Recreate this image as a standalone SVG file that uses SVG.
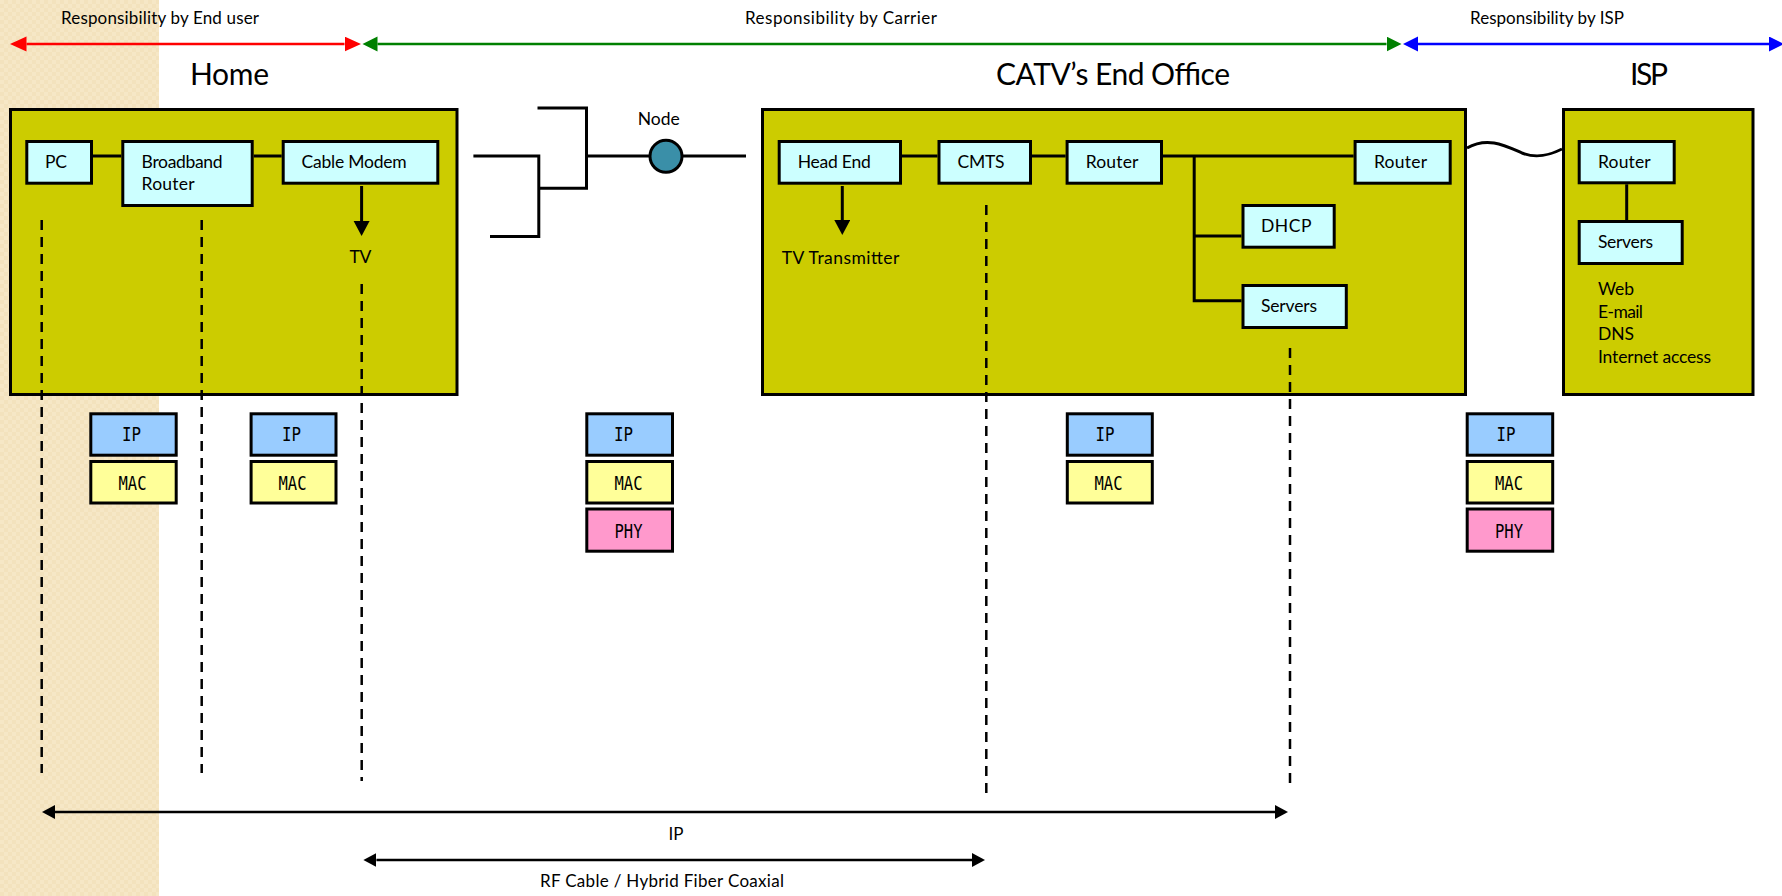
<svg xmlns="http://www.w3.org/2000/svg" width="1782" height="896" viewBox="0 0 1782 896">
  <style>
    .t { font-family: Lato, "Liberation Sans", sans-serif; fill: #000; }
    .lbl { font-size: 17px; }
    .ttl { font-size: 30px; }
    .nd { font-size: 17.5px; }
    .site { fill: #cccc00; stroke: #000; stroke-width: 3; }
    .dev { fill: #ccffff; stroke: #000; stroke-width: 3; }
    .link { fill: none; stroke: #000; stroke-width: 3; }
    .dash { fill: none; stroke: #000; stroke-width: 2.5; stroke-dasharray: 10 7; }
    .ip { fill: #99ccff; stroke: #000; stroke-width: 3; }
    .mac { fill: #ffff99; stroke: #000; stroke-width: 3; }
    .phy { fill: #ff99cc; stroke: #000; stroke-width: 3; }
    .ly { font-family: "DejaVu Sans Mono", "Liberation Mono", monospace; font-size: 19px; fill: #000; text-anchor: middle; }
  </style>
  <defs>
    <pattern id="weave" width="8" height="8" patternUnits="userSpaceOnUse">
      <rect width="8" height="8" fill="#f3e2bd"/>
      <rect width="4" height="4" fill="#f6e7c6"/>
      <rect x="4" y="4" width="4" height="4" fill="#f6e7c6"/>
    </pattern>
    <marker id="hRed" markerUnits="userSpaceOnUse" markerWidth="17" markerHeight="16" refX="0" refY="7.5" orient="auto-start-reverse">
      <path d="M0,0 L16.5,7.5 L0,15 z" fill="#ff0000"/>
    </marker>
    <marker id="hGreen" markerUnits="userSpaceOnUse" markerWidth="17" markerHeight="16" refX="0" refY="7.5" orient="auto-start-reverse">
      <path d="M0,0 L15,7.5 L0,15 z" fill="#008000"/>
    </marker>
    <marker id="hBlue" markerUnits="userSpaceOnUse" markerWidth="17" markerHeight="16" refX="0" refY="7.5" orient="auto-start-reverse">
      <path d="M0,0 L15,7.5 L0,15 z" fill="#0000ff"/>
    </marker>
    <marker id="hBlack" markerUnits="userSpaceOnUse" markerWidth="14" markerHeight="15" refX="0" refY="7" orient="auto-start-reverse">
      <path d="M0,0 L13,7 L0,14 z" fill="#000"/>
    </marker>
    <marker id="hDown" markerUnits="userSpaceOnUse" markerWidth="16" markerHeight="17" refX="0" refY="8" orient="auto">
      <path d="M0,0 L15,8 L0,16 z" fill="#000"/>
    </marker>
  </defs>

  <!-- end-user zone background -->
  <rect x="0" y="0" width="159" height="896" fill="url(#weave)"/>

  <!-- responsibility spans -->
  <g id="responsibility">
    <line x1="26.5" y1="44" x2="344.5" y2="44" stroke="#ff0000" stroke-width="2.5" marker-start="url(#hRed)" marker-end="url(#hRed)"/>
    <line x1="377.5" y1="44" x2="1386.5" y2="44" stroke="#008000" stroke-width="2.5" marker-start="url(#hGreen)" marker-end="url(#hGreen)"/>
    <line x1="1418" y1="44" x2="1769" y2="44" stroke="#0000ff" stroke-width="2.5" marker-start="url(#hBlue)" marker-end="url(#hBlue)"/>
    <text class="t lbl" x="61" y="24" textLength="198">Responsibility by End user</text>
    <text class="t lbl" x="745" y="24" textLength="192">Responsibility by Carrier</text>
    <text class="t lbl" x="1470" y="24" textLength="154">Responsibility by ISP</text>
  </g>

  <!-- site titles -->
  <text class="t ttl" x="190" y="85" textLength="79">Home</text>
  <text class="t ttl" x="996" y="85" textLength="234">CATV’s End Office</text>
  <text class="t ttl" x="1630" y="85" textLength="38">ISP</text>

  <!-- sites -->
  <g id="home">
    <rect class="site" x="10.5" y="109.5" width="446.5" height="285"/>
  </g>
  <g id="catv-office">
    <rect class="site" x="762.5" y="109.5" width="703" height="285"/>
  </g>
  <g id="isp">
    <rect class="site" x="1563.5" y="109.5" width="189.5" height="285"/>
  </g>

  <!-- connectors -->
  <g id="connectors">
    <line class="link" x1="93" y1="156" x2="121.3" y2="156"/>
    <line class="link" x1="253.7" y1="156" x2="281.7" y2="156"/>
    <line class="link" x1="361.6" y1="186" x2="361.6" y2="221" marker-end="url(#hDown)"/>
    <!-- coax tree to the node -->
    <polyline class="link" points="537.5,108 586.5,108 586.5,188.3 538.8,188.3"/>
    <polyline class="link" points="473.4,156 538.8,156 538.8,236.5 490,236.5"/>
    <line class="link" x1="586.5" y1="156" x2="746" y2="156"/>
    <!-- end office -->
    <line class="link" x1="842.3" y1="186" x2="842.3" y2="220" marker-end="url(#hDown)"/>
    <line class="link" x1="902" y1="156" x2="937.5" y2="156"/>
    <line class="link" x1="1032" y1="156" x2="1065.6" y2="156"/>
    <line class="link" x1="1163" y1="156" x2="1353.6" y2="156"/>
    <polyline class="link" points="1194.2,156 1194.2,300.7 1241.5,300.7"/>
    <line class="link" x1="1194.2" y1="236" x2="1241.5" y2="236"/>
    <!-- ISP uplink -->
    <path class="link" stroke-width="2.5" d="M1467,148 C1488,136 1506,146 1522,153 C1537,159 1550,155 1562,149"/>
    <line class="link" x1="1626.7" y1="184.3" x2="1626.7" y2="220"/>
    <!-- layer boundaries -->
    <line class="dash" x1="41.7" y1="220" x2="41.7" y2="773"/>
    <line class="dash" x1="201.7" y1="220" x2="201.7" y2="773"/>
    <line class="dash" x1="361.7" y1="284" x2="361.7" y2="781"/>
    <line class="dash" x1="986.3" y1="205" x2="986.3" y2="794"/>
    <line class="dash" x1="1290" y1="348" x2="1290" y2="788"/>
    <!-- spans -->
    <line x1="55" y1="812" x2="1275" y2="812" stroke="#000" stroke-width="2.5" marker-start="url(#hBlack)" marker-end="url(#hBlack)"/>
    <line x1="376.4" y1="860" x2="972" y2="860" stroke="#000" stroke-width="2.5" marker-start="url(#hBlack)" marker-end="url(#hBlack)"/>
    <text class="t lbl" x="676" y="840" text-anchor="middle">IP</text>
    <text class="t lbl" x="540" y="887" textLength="244">RF Cable / Hybrid Fiber Coaxial</text>
  </g>

  <!-- home devices -->
  <g id="pc">
    <rect class="dev" x="26.8" y="141.5" width="64.7" height="41.7"/>
    <text class="t nd" x="45" y="167.5" textLength="22">PC</text>
  </g>
  <g id="broadband-router">
    <rect class="dev" x="122.8" y="141.5" width="129.4" height="64"/>
    <text class="t nd" x="141.6" y="167.5" textLength="81">Broadband</text>
    <text class="t nd" x="141.6" y="190" textLength="53">Router</text>
  </g>
  <g id="cable-modem">
    <rect class="dev" x="283.2" y="141.5" width="154.6" height="41.7"/>
    <text class="t nd" x="301.6" y="167.5" textLength="105">Cable Modem</text>
  </g>
  <g id="tv">
    <text class="t nd" x="349.4" y="263" textLength="22">TV</text>
  </g>

  <!-- HFC node -->
  <g id="node">
    <circle cx="666" cy="156.3" r="16" fill="#3a8fa8" stroke="#000" stroke-width="3"/>
    <text class="t nd" x="637.7" y="125" textLength="42">Node</text>
  </g>

  <!-- end office devices -->
  <g id="head-end">
    <rect class="dev" x="779.2" y="141.5" width="121.3" height="41.7"/>
    <text class="t nd" x="797.7" y="167.5" textLength="73">Head End</text>
  </g>
  <g id="tv-transmitter">
    <text class="t nd" x="781.7" y="264" textLength="117.6">TV Transmitter</text>
  </g>
  <g id="cmts">
    <rect class="dev" x="939" y="141.5" width="91.5" height="41.7"/>
    <text class="t nd" x="957.6" y="167.5" textLength="47">CMTS</text>
  </g>
  <g id="office-router">
    <rect class="dev" x="1067.1" y="141.5" width="94.4" height="41.7"/>
    <text class="t nd" x="1085.7" y="167.5" textLength="52.7">Router</text>
  </g>
  <g id="edge-router">
    <rect class="dev" x="1355.1" y="141.5" width="95.1" height="41.7"/>
    <text class="t nd" x="1374" y="167.5" textLength="53">Router</text>
  </g>
  <g id="dhcp">
    <rect class="dev" x="1243" y="205.5" width="91.2" height="41.7"/>
    <text class="t nd" x="1261" y="231.7" textLength="50.5">DHCP</text>
  </g>
  <g id="office-servers">
    <rect class="dev" x="1243" y="285.5" width="103.3" height="42"/>
    <text class="t nd" x="1261" y="312.3" textLength="56">Servers</text>
  </g>

  <!-- ISP devices -->
  <g id="isp-router">
    <rect class="dev" x="1579.2" y="141.5" width="95" height="41.3"/>
    <text class="t nd" x="1598" y="167.5" textLength="52.7">Router</text>
  </g>
  <g id="isp-servers">
    <rect class="dev" x="1579.2" y="221.5" width="103" height="42"/>
    <text class="t nd" x="1598" y="248.3" textLength="55">Servers</text>
  </g>
  <g id="isp-services">
    <text class="t nd" x="1598" y="295" textLength="36">Web</text>
    <text class="t nd" x="1598" y="318" textLength="45">E-mail</text>
    <text class="t nd" x="1598" y="340" textLength="36">DNS</text>
    <text class="t nd" x="1598" y="362.7" textLength="113">Internet access</text>
  </g>

  <!-- protocol stacks -->
  <g id="stack-pc">
    <rect class="ip" x="90.8" y="413.8" width="85.4" height="41.4"/>
    <text class="ly" x="131.5" y="441" textLength="19" lengthAdjust="spacingAndGlyphs">IP</text>
    <rect class="mac" x="90.8" y="461.5" width="85.4" height="41.5"/>
    <text class="ly" x="132.5" y="489.5" textLength="28" lengthAdjust="spacingAndGlyphs">MAC</text>
  </g>
  <g id="stack-router">
    <rect class="ip" x="251.1" y="413.8" width="84.9" height="41.4"/>
    <text class="ly" x="291.5" y="441" textLength="19" lengthAdjust="spacingAndGlyphs">IP</text>
    <rect class="mac" x="251.1" y="461.5" width="84.9" height="41.5"/>
    <text class="ly" x="292.5" y="489.5" textLength="28" lengthAdjust="spacingAndGlyphs">MAC</text>
  </g>
  <g id="stack-node">
    <rect class="ip" x="586.8" y="413.8" width="85.7" height="41.4"/>
    <text class="ly" x="623.5" y="441" textLength="19" lengthAdjust="spacingAndGlyphs">IP</text>
    <rect class="mac" x="586.8" y="461.5" width="85.7" height="41.5"/>
    <text class="ly" x="628.5" y="489.5" textLength="28" lengthAdjust="spacingAndGlyphs">MAC</text>
    <rect class="phy" x="586.8" y="509" width="85.7" height="42.2"/>
    <text class="ly" x="628.5" y="538" textLength="28" lengthAdjust="spacingAndGlyphs">PHY</text>
  </g>
  <g id="stack-office">
    <rect class="ip" x="1067.3" y="413.8" width="85" height="41.4"/>
    <text class="ly" x="1105" y="441" textLength="19" lengthAdjust="spacingAndGlyphs">IP</text>
    <rect class="mac" x="1067.3" y="461.5" width="85" height="41.5"/>
    <text class="ly" x="1108.5" y="489.5" textLength="28" lengthAdjust="spacingAndGlyphs">MAC</text>
  </g>
  <g id="stack-isp">
    <rect class="ip" x="1467.2" y="413.8" width="85.5" height="41.4"/>
    <text class="ly" x="1506" y="441" textLength="19" lengthAdjust="spacingAndGlyphs">IP</text>
    <rect class="mac" x="1467.2" y="461.5" width="85.5" height="41.5"/>
    <text class="ly" x="1509" y="489.5" textLength="28" lengthAdjust="spacingAndGlyphs">MAC</text>
    <rect class="phy" x="1467.2" y="509" width="85.5" height="42.2"/>
    <text class="ly" x="1509" y="538" textLength="28" lengthAdjust="spacingAndGlyphs">PHY</text>
  </g>
</svg>
